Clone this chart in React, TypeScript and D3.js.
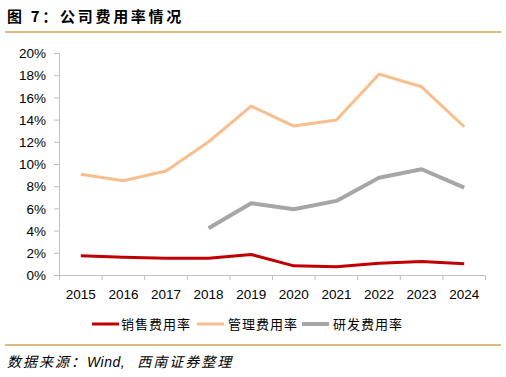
import React from "react";
import * as d3 from "d3";

const years = ["2015", "2016", "2017", "2018", "2019", "2020", "2021", "2022", "2023", "2024"];
const salesRate = [1.77, 1.65, 1.56, 1.56, 1.89, 0.87, 0.78, 1.11, 1.26, 1.05];
const adminRate = [9.12, 8.54, 9.42, 12.05, 15.26, 13.46, 14.0, 18.14, 17.0, 13.4];
const rdRate: (number | null)[] = [null, null, null, 4.26, 6.51, 5.97, 6.72, 8.81, 9.57, 7.92];
const yTicks = [0, 2, 4, 6, 8, 10, 12, 14, 16, 18, 20];

const seriesNames = ["销售费用率", "管理费用率", "研发费用率"];
const seriesColors = ["#C00000", "#F8BE8C", "#A6A6A6"];
const seriesWidths = [3, 3, 4];

export default function App() {
  const W = 506, H = 377;
  const x = d3.scaleBand<string>().domain(years).range([59.5, 485.5]);
  const y = d3.scaleLinear().domain([0, 20]).range([275.5, 53.5]);
  const series = [salesRate, adminRate, rdRate];
  const line = d3
    .line<number | null>()
    .defined((d) => d !== null)
    .x((_, i) => (x(years[i]) as number) + x.bandwidth() / 2)
    .y((d) => y(d as number));
  const axisColor = "#BFBFBF";
  const font = "Liberation Sans, Arial, sans-serif";
  const cjk = "'Noto Sans CJK SC', sans-serif";
  const legendItems = [
    { lx: 92, tx: 121 },
    { lx: 197, tx: 228 },
    { lx: 302, tx: 333 },
  ];
  return (
    <svg width={W} height={H} style={{ position: "absolute", left: 0, top: 0 }}>
      <rect width={W} height={H} fill="#fff" />
      <text x={7} y={22} fontFamily={cjk} fontWeight="bold" fontSize={15} letterSpacing={2.7} fill="#000">
        图 7：公司费用率情况
      </text>
      <line x1={5} x2={501} y1={32} y2={32} stroke="#D4A256" strokeWidth={1.5} />
      {/* y axis */}
      <line x1={59.5} x2={59.5} y1={53} y2={276} stroke={axisColor} strokeWidth={1} />
      {yTicks.map((t) => (
        <g key={t}>
          <line x1={54} x2={59.5} y1={y(t)} y2={y(t)} stroke={axisColor} />
          <text x={46} y={y(t)} dy="0.35em" textAnchor="end" fontFamily={font} fontSize={13.5} fill="#000">
            {t}%
          </text>
        </g>
      ))}
      {/* x axis */}
      <line x1={59} x2={485.5} y1={275.5} y2={275.5} stroke={axisColor} />
      {years.map((yr, i) => (
        <line key={"t" + i} x1={(x(yr) as number)} x2={(x(yr) as number)} y1={275.5} y2={280} stroke={axisColor} />
      ))}
      <line x1={485.5} x2={485.5} y1={275.5} y2={280} stroke={axisColor} />
      {years.map((yr) => (
        <text key={yr} x={(x(yr) as number) + x.bandwidth() / 2} y={299} textAnchor="middle" fontFamily={font} fontSize={13.5} fill="#000">
          {yr}
        </text>
      ))}
      {series.map((s, i) => (
        <path key={i} d={line(s) || ""} fill="none" stroke={seriesColors[i]} strokeWidth={seriesWidths[i]} strokeLinejoin="round" />
      ))}
      {/* legend */}
      {legendItems.map((it, i) => (
        <g key={i}>
          <line x1={it.lx} x2={it.lx + 27} y1={324} y2={324} stroke={seriesColors[i]} strokeWidth={seriesWidths[i]} />
          <text x={it.tx} y={324} dy="0.35em" fontFamily={cjk} fontSize={13} letterSpacing={1} fill="#000">
            {seriesNames[i]}
          </text>
        </g>
      ))}
      <line x1={5} x2={501} y1={345} y2={345} stroke="#D4A256" strokeWidth={1.5} />
      <text x={7} y={367} fontFamily={cjk} fontStyle="italic" fontSize={14} letterSpacing={2} fill="#000">
        数据来源：<tspan fontFamily={font} fontStyle="italic" letterSpacing={0.5}>Wind,</tspan>
        <tspan dx={12}>西南证券整理</tspan>
      </text>
    </svg>
  );
}
